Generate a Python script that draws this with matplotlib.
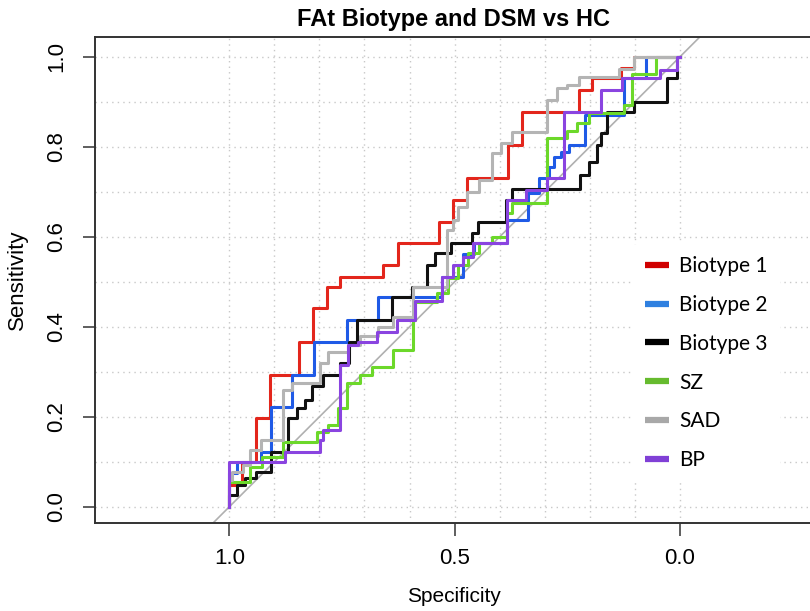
import numpy as np
import matplotlib
matplotlib.use("Agg")
import matplotlib.pyplot as plt
from matplotlib.lines import Line2D

plt.rcParams['font.family'] = 'Liberation Sans'

# ROC staircases: spec where each rise happens, sens reached after the rise
b1_spec = [1.0, 1.0, 0.971, 0.940, 0.909, 0.845, 0.814, 0.783, 0.754, 0.659, 0.626, 0.535, 0.504, 0.473, 0.381, 0.350, 0.223, 0.195, 0.131, 0.102, 0.0]
b1_sens = [0.0, 0.049, 0.100, 0.198, 0.293, 0.367, 0.442, 0.489, 0.511, 0.538, 0.587, 0.633, 0.682, 0.731, 0.804, 0.878, 0.927, 0.953, 0.976, 1.0, 1.0]

b2_spec = [1.0, 1.0, 0.982, 0.929, 0.907, 0.861, 0.812, 0.739, 0.670, 0.529, 0.482, 0.456, 0.383, 0.338, 0.312, 0.290, 0.279, 0.263, 0.246, 0.210, 0.124, 0.075, 0.0]
b2_sens = [0.0, 0.076, 0.100, 0.122, 0.222, 0.293, 0.367, 0.416, 0.467, 0.511, 0.562, 0.587, 0.638, 0.698, 0.731, 0.756, 0.778, 0.789, 0.804, 0.871, 0.953, 1.0, 1.0]

b3_spec = [1.0, 1.0, 0.982, 0.965, 0.940, 0.907, 0.869, 0.850, 0.832, 0.816, 0.792, 0.754, 0.735, 0.717, 0.639, 0.595, 0.562, 0.544, 0.507, 0.462, 0.449, 0.385, 0.372, 0.221, 0.201, 0.184, 0.175, 0.162, 0.102, 0.029, 0.007, 0.0]
b3_sens = [0.0, 0.027, 0.049, 0.064, 0.078, 0.122, 0.198, 0.220, 0.238, 0.269, 0.293, 0.320, 0.367, 0.416, 0.467, 0.489, 0.538, 0.564, 0.587, 0.609, 0.633, 0.682, 0.707, 0.738, 0.767, 0.804, 0.831, 0.878, 0.900, 0.953, 1.0, 1.0]

sz_spec = [1.0, 1.0, 0.954, 0.927, 0.881, 0.805, 0.781, 0.759, 0.739, 0.710, 0.684, 0.637, 0.593, 0.588, 0.540, 0.515, 0.493, 0.471, 0.445, 0.418, 0.383, 0.372, 0.296, 0.250, 0.228, 0.201, 0.124, 0.106, 0.053, 0.0]
sz_sens = [0.0, 0.056, 0.089, 0.111, 0.144, 0.167, 0.182, 0.220, 0.276, 0.293, 0.311, 0.349, 0.416, 0.456, 0.476, 0.509, 0.538, 0.564, 0.587, 0.600, 0.653, 0.676, 0.820, 0.836, 0.853, 0.876, 0.893, 0.962, 1.0, 1.0]

sad_spec = [1.0, 1.0, 0.993, 0.969, 0.954, 0.929, 0.881, 0.861, 0.799, 0.781, 0.737, 0.710, 0.670, 0.637, 0.593, 0.518, 0.504, 0.493, 0.473, 0.445, 0.418, 0.396, 0.372, 0.296, 0.272, 0.250, 0.223, 0.135, 0.102, 0.0]
sad_sens = [0.0, 0.060, 0.078, 0.093, 0.127, 0.149, 0.260, 0.276, 0.320, 0.344, 0.360, 0.380, 0.400, 0.422, 0.489, 0.616, 0.638, 0.667, 0.700, 0.727, 0.787, 0.809, 0.833, 0.904, 0.931, 0.938, 0.956, 0.973, 1.0, 1.0]

bp_spec = [1.0, 1.0, 0.876, 0.799, 0.792, 0.754, 0.737, 0.715, 0.673, 0.628, 0.588, 0.529, 0.504, 0.482, 0.460, 0.383, 0.341, 0.294, 0.257, 0.175, 0.128, 0.044, 0.007, 0.0]
bp_sens = [0.0, 0.100, 0.122, 0.149, 0.171, 0.316, 0.360, 0.367, 0.389, 0.416, 0.458, 0.511, 0.538, 0.556, 0.587, 0.682, 0.704, 0.731, 0.878, 0.927, 0.953, 0.971, 1.0, 1.0]

labels = ["Biotype 1", "Biotype 2", "Biotype 3", "SZ", "SAD", "BP"]
line_colors = ["#e3261c", "#1f5ae6", "#111111", "#6cd82a", "#b4b4b4", "#8a44e0"]
legend_colors = ["#d00000", "#2f80e0", "#000000", "#66bb2e", "#a8a8a8", "#8040d6"]

fig = plt.figure(figsize=(8.1, 6.11), dpi=100)
ax = fig.add_axes([95 / 810, 88 / 611, 717 / 810, 486 / 611])

ax.set_xlim(1.298, -0.293)
ax.set_ylim(-0.036, 1.044)

# dotted grid every 0.1
for v in np.arange(0, 1.01, 0.1):
    ax.axvline(v, color="#c8c8c8", lw=1, ls=(0, (1, 3)), zorder=0)
    ax.axhline(v, color="#c8c8c8", lw=1, ls=(0, (1, 3)), zorder=0)

ax.axline((1, 0), (0, 1), color="#b0b0b0", lw=1.2, zorder=1)

curves = [(b1_spec, b1_sens), (b2_spec, b2_sens), (b3_spec, b3_sens),
          (sz_spec, sz_sens), (sad_spec, sad_sens), (bp_spec, bp_sens)]
for (sp, se), c in zip(curves, line_colors):
    ax.step(sp, se, where="post", color=c, lw=2.2, zorder=2)

ax.set_xticks([1.0, 0.5, 0.0])
ax.set_xticklabels(["1.0", "0.5", "0.0"])
ax.set_yticks([0.0, 0.2, 0.4, 0.6, 0.8, 1.0])
ax.set_yticklabels(["0.0", "0.2", "0.4", "0.6", "0.8", "1.0"], rotation=90, va="center")
ax.tick_params(direction="out", length=9, width=1.1, color="#333333", labelsize=16, pad=9)
ax.tick_params(axis="y", pad=11)
for s in ax.spines.values():
    s.set_color("#333333")
    s.set_linewidth(1.4)

ax.set_xlabel("Specificity", fontsize=15, labelpad=13)
ax.set_ylabel("Sensitivity", fontsize=16, labelpad=13)
ax.set_title("FAt Biotype and DSM vs HC", fontsize=17, fontweight="bold", pad=8)

handles = [Line2D([], [], color=c, lw=4.5, solid_capstyle="butt") for c in legend_colors]
leg = ax.legend(handles, labels, loc="upper left", bbox_to_anchor=(0.735, 0.596),
                frameon=True, facecolor="white", edgecolor="none", framealpha=1,
                handlelength=1.15, handletextpad=0.5, labelspacing=0.9,
                borderpad=0.6, prop={"family": "Lato", "size": 15})
leg.set_zorder(5)

fig.savefig("out.png", dpi=100)
